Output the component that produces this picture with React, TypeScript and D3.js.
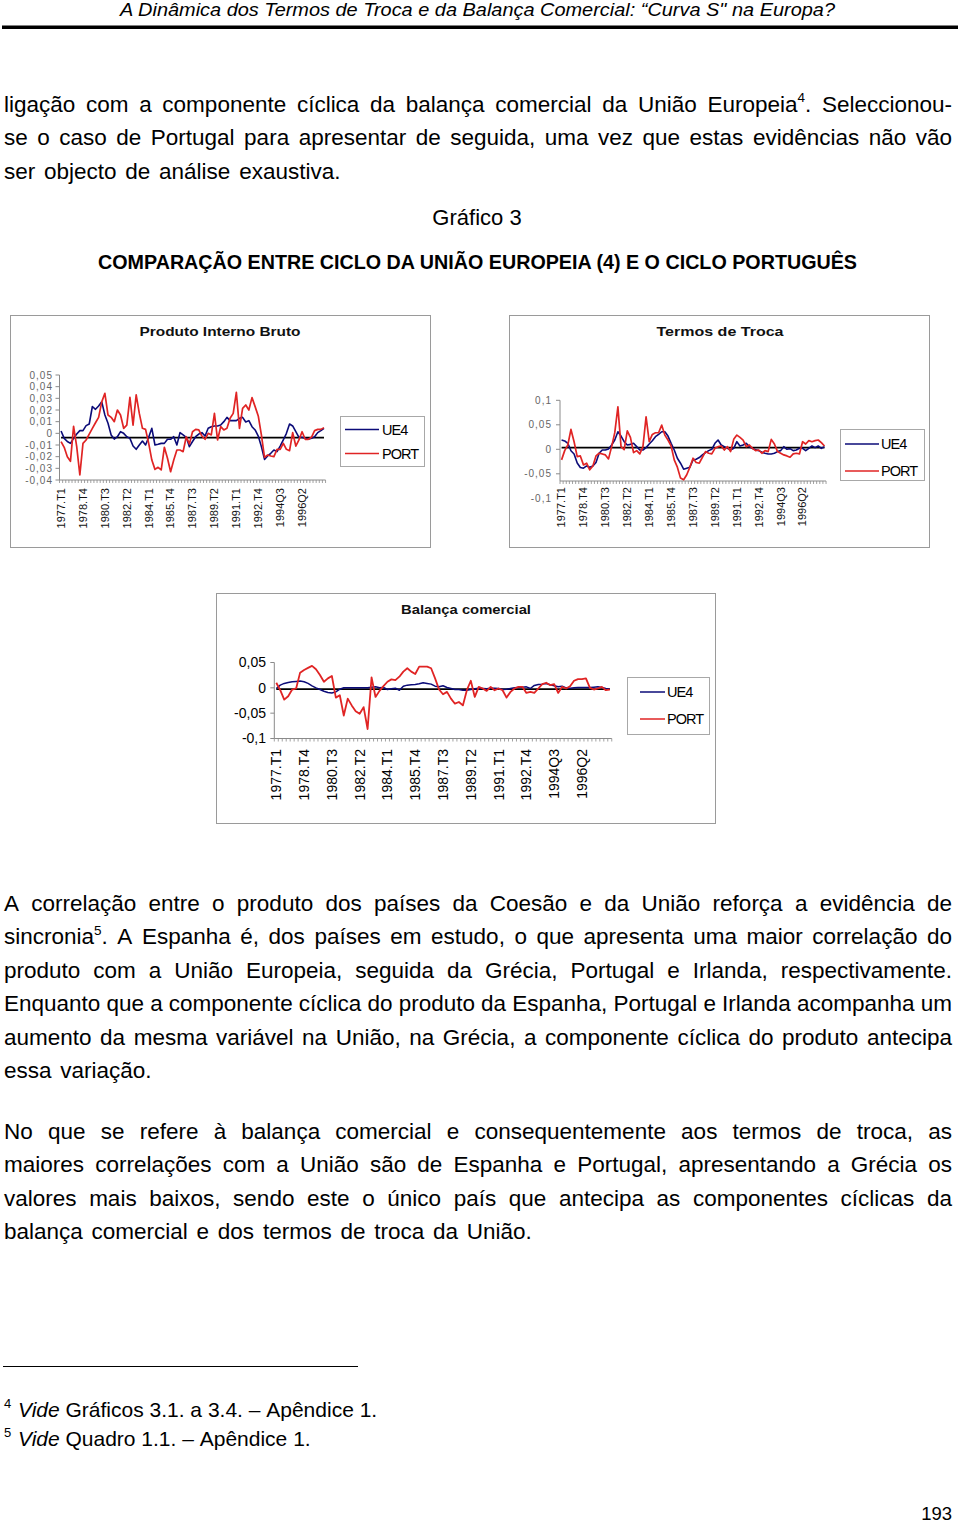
import React from 'react';
import * as d3 from 'd3';

const FONT = '"Liberation Sans", Arial, Helvetica, sans-serif';

// ---------- categories (quarters 1977 T1 .. 1998 Q1) ----------
const QUARTERS = [
  '1977.T1','1977.T2','1977.T3','1977.T4','1978.T1','1978.T2','1978.T3','1978.T4',
  '1979.T1','1979.T2','1979.T3','1979.T4','1980.T1','1980.T2','1980.T3','1980.T4',
  '1981.T1','1981.T2','1981.T3','1981.T4','1982.T1','1982.T2','1982.T3','1982.T4',
  '1983.T1','1983.T2','1983.T3','1983.T4','1984.T1','1984.T2','1984.T3','1984.T4',
  '1985.T1','1985.T2','1985.T3','1985.T4','1986.T1','1986.T2','1986.T3','1986.T4',
  '1987.T1','1987.T2','1987.T3','1987.T4','1988.T1','1988.T2','1988.T3','1988.T4',
  '1989.T1','1989.T2','1989.T3','1989.T4','1990.T1','1990.T2','1990.T3','1990.T4',
  '1991.T1','1991.T2','1991.T3','1991.T4','1992.T1','1992.T2','1992.T3','1992.T4',
  '1993.T1','1993.T2','1993.T3','1993.T4','1994.T1','1994.T2','1994Q3','1994Q4',
  '1995Q1','1995Q2','1995Q3','1995Q4','1996Q1','1996Q2','1996Q3','1996Q4',
  '1997Q1','1997Q2','1997Q3','1997Q4','1998Q1',
];
const SHOWN_LABELS = ['1977.T1','1978.T4','1980.T3','1982.T2','1984.T1','1985.T4','1987.T3','1989.T2','1991.T1','1992.T4','1994Q3','1996Q2'];
const SERIES_NAMES = ['UE4', 'PORT'];

// ---------- Produto Interno Bruto ----------
const PIB_UE4 = [0.002,-0.0043,-0.007,-0.0086,-0.0043,-0.0006,0.0023,0.0023,0.0066,0.008,
0.023,0.0206,0.0234,0.027,0.0157,0.0086,-0.0014,-0.0049,-0.0029,0.0014,
0,-0.0029,-0.0043,-0.0109,-0.0137,-0.01,-0.0066,-0.01,-0.0034,0.0043,
-0.01,-0.0094,-0.0086,-0.0086,-0.0051,-0.0051,-0.0029,-0.01,0.0006,-0.0014,
-0.0034,-0.0114,-0.007,-0.0029,-0.0006,0.0006,-0.0023,0.0043,0.0057,0.0063,
0.0063,0.0071,0.01,0.0137,0.0109,0.0109,0.0109,0.0129,0.0137,0.0097,
0.0109,0.0057,0.0029,-0.0023,-0.0114,-0.0223,-0.0194,-0.0171,-0.0143,-0.0157,
-0.0109,-0.0057,0,0.008,0.0063,0.0014,-0.0034,-0.0034,-0.0043,-0.0051,
-0.0043,-0.0029,0.0006,0.0023,0.0043];
const PIB_PORT = [-0.0071,-0.012,-0.02,-0.024,0.006,-0.0114,-0.0357,-0.0086,-0.0057,-0.0006,
0.0043,0.0091,0.0137,0.027,0.0343,0.0157,0.0137,0.01,0.02,0.0157,
0.0043,0.0071,0.0309,0.0071,0.0329,0.0171,0.0043,0.0034,-0.0086,-0.0229,
-0.0309,-0.0291,-0.0314,-0.012,-0.0214,-0.0329,-0.0229,-0.0143,-0.0143,-0.0157,
-0.0029,-0.0091,0.0014,0.0034,0.0029,-0.0023,-0.0051,0,-0.0014,0.0171,
-0.0057,0.0057,0.0029,0.0043,0.0129,0.0171,0.0351,0.0043,0.0214,0.0243,
0.02,0.0306,0.0229,0.0149,-0.0014,-0.0206,-0.0186,-0.0194,-0.02,-0.0137,
-0.0137,-0.0086,-0.0137,-0.0149,0.0006,-0.0109,-0.0057,0.0014,-0.0051,-0.0051,
-0.0034,0.0023,0.0034,0.0034,0.0049];
const PIB_TICKS = [0.05,0.04,0.03,0.02,0.01,0,-0.01,-0.02,-0.03,-0.04];
const PIB_TICK_LABELS = ['0,05','0,04','0,03','0,02','0,01','0','-0,01','-0,02','-0,03','-0,04'];
const PIB_REF = -0.0037;

// ---------- Termos de Troca ----------
const TT_UE4 = [0.019,0.017,0.012,-0.003,-0.0095,-0.028,-0.037,-0.0385,-0.034,-0.0365,
-0.034,-0.027,-0.008,-0.0014,-0.0014,0.0007,0.0088,0.019,0.0358,0.027,
0.0155,0.0088,0.0101,0.0122,0.0054,-0.0014,-0.0014,0.0034,0.0108,0.0176,
0.0257,0.0304,0.0358,0.0358,0.027,0.0122,-0.0014,-0.0182,-0.0284,-0.0405,
-0.0385,-0.0365,-0.0216,-0.0203,-0.0169,-0.0115,-0.0068,-0.0027,0,0.0122,
0.019,0.0088,0.0054,0.002,-0.0014,0.002,0.0155,0.0068,0.0088,0.0122,
0.0054,0.0014,-0.0007,-0.0027,-0.0061,-0.0081,-0.0095,-0.0095,-0.0081,-0.0047,
-0.0027,0.0054,0,0.0014,-0.0027,-0.0014,0.002,0.002,-0.0027,0.002,
0.0068,0.0034,0.0068,0.002,0.0054];
const TT_PORT = [-0.0216,-0.0027,0.0088,0.0405,0.0155,-0.0149,-0.0135,-0.0318,-0.0284,-0.0419,
-0.034,-0.0135,-0.0081,-0.0095,-0.0115,-0.0196,0.0054,0.034,0.0865,0.0054,
-0.0007,0.0378,0.0243,-0.0068,-0.0027,-0.0095,0.0054,0.0662,0.0155,0.0304,
0.0338,0.0338,0.0493,0.029,0.019,0.0068,-0.0216,-0.0365,-0.0588,-0.0622,
-0.052,-0.0365,-0.0182,-0.027,-0.0284,-0.0162,-0.0047,-0.0081,-0.0095,0.002,
0.0054,0.0068,-0.0014,0.0054,-0.0047,0.0203,0.029,0.0243,0.0189,0.0054,
0.0088,0.002,-0.0027,-0.0014,-0.0081,-0.0027,-0.0047,0.0203,0.0108,-0.0047,
-0.0081,-0.0115,-0.0135,-0.0162,-0.0095,-0.0081,-0.0095,0.0155,0.0108,0.0176,
0.0155,0.0176,0.019,0.0135,0.0068];
const TT_TICKS = [0.1,0.05,0,-0.05];
const TT_TICK_LABELS = ['0,1','0,05','0','-0,05'];
const TT_EXTRA_LABEL = '-0,1';
const TT_REF = 0.0035;

// ---------- Balança comercial ----------
const BC_UE4 = [-0.0013,0.0053,0.0087,0.0107,0.012,0.0127,0.0133,0.012,0.0087,0.004,
0,-0.0033,-0.0067,-0.0093,-0.01,-0.008,-0.0027,0,0,0,
0,0,0,0,0.0013,0.002,0,0.0007,-0.0033,-0.002,
-0.0007,-0.0047,0.0033,0.0053,0.006,0.0067,0.008,0.01,0.0087,0.0073,
0.0033,0.002,0.004,0.0007,-0.0013,-0.0033,-0.0033,-0.0047,-0.0047,-0.0033,
-0.002,-0.0007,-0.0013,-0.002,-0.0007,-0.0007,-0.0013,-0.0033,-0.0027,-0.0013,
0,0.0007,0.0013,0.002,-0.0013,0.0047,0.0067,0.0073,0.0087,0.006,
0.004,0.002,0.0033,0,-0.0007,0,0.0007,0.0007,0.0007,0.0007,
0.0013,0.002,0.0007,-0.0013,-0.002];
const BC_PORT = [0.01,-0.0047,-0.0233,-0.0167,-0.0033,-0.0013,0.03,0.0353,0.0393,0.0433,
0.0367,0.0253,0.012,0.0187,0.0233,-0.0193,-0.0147,-0.0547,-0.0213,-0.0347,
-0.046,-0.0513,-0.038,-0.0813,0.0207,-0.018,-0.006,0.0033,0.012,0.0167,
0.0153,0.022,0.032,0.0387,0.032,0.0273,0.042,0.042,0.042,0.0387,
0.0187,-0.0033,-0.0127,-0.008,-0.0213,-0.0313,-0.028,-0.0347,-0.0047,0.014,
-0.018,0.002,-0.0013,-0.006,0.002,-0.0047,-0.0013,-0.0047,-0.0193,-0.008,
-0.0013,0.002,0.002,-0.01,-0.008,-0.01,-0.0013,0.0073,0.01,0.0053,
0.0073,-0.01,0.002,-0.0013,0.0033,0.014,0.0173,0.0173,0.0187,0,
-0.0033,-0.0013,0.002,-0.0047,-0.0033];
const BC_TICKS = [0.05,0,-0.05,-0.1];
const BC_TICK_LABELS = ['0,05','0','-0,05','-0,1'];
const BC_REF = -0.0026;

// ---------- page text ----------
type Seg = { t: string; sup?: boolean; it?: boolean };
const HEADER = 'A Dinâmica dos Termos de Troca e da Balança Comercial: “Curva S" na Europa?';
const PARA1: Seg[][] = [
  [{ t: 'ligação com a componente cíclica da balança comercial da União Europeia' }, { t: '4', sup: true }, { t: '. Seleccionou-' }],
  [{ t: 'se o caso de Portugal para apresentar de seguida, uma vez que estas evidências não vão' }],
  [{ t: 'ser objecto de análise exaustiva.' }],
];
const FIG_NUMBER = 'Gráfico 3';
const FIG_TITLE = 'COMPARAÇÃO ENTRE CICLO DA UNIÃO EUROPEIA (4) E O CICLO PORTUGUÊS';
const PARA2: Seg[][] = [
  [{ t: 'A correlação entre o produto dos países da Coesão e da União reforça a evidência de' }],
  [{ t: 'sincronia' }, { t: '5', sup: true }, { t: '. A Espanha é, dos países em estudo, o que apresenta uma maior correlação do' }],
  [{ t: 'produto com a União Europeia, seguida da Grécia, Portugal e Irlanda, respectivamente.' }],
  [{ t: 'Enquanto que a componente cíclica do produto da Espanha, Portugal e Irlanda acompanha um' }],
  [{ t: 'aumento da mesma variável na União, na Grécia, a componente cíclica do produto antecipa' }],
  [{ t: 'essa variação.' }],
];
const PARA3: Seg[][] = [
  [{ t: 'No que se refere à balança comercial e consequentemente aos termos de troca, as' }],
  [{ t: 'maiores correlações com a União são de Espanha e Portugal, apresentando a Grécia os' }],
  [{ t: 'valores mais baixos, sendo este o único país que antecipa as componentes cíclicas da' }],
  [{ t: 'balança comercial e dos termos de troca da União.' }],
];
const FOOTNOTES: { mark: string; segs: Seg[] }[] = [
  { mark: '4', segs: [{ t: 'Vide', it: true }, { t: ' Gráficos 3.1. a 3.4. – Apêndice 1.' }] },
  { mark: '5', segs: [{ t: 'Vide', it: true }, { t: ' Quadro 1.1. – Apêndice 1.' }] },
];
const PAGE_NUMBER = '193';

// ---------- text measuring ----------
let ctx: CanvasRenderingContext2D | null = null;
function measure(text: string, size: number, italic = false, weight = 'normal') {
  if (!ctx) ctx = document.createElement('canvas').getContext('2d');
  ctx!.font = `${italic ? 'italic' : 'normal'} ${weight} ${size}px ${FONT}`;
  return ctx!.measureText(text).width;
}

function toWords(segs: Seg[]): Seg[][] {
  const words: Seg[][] = [];
  let cur: Seg[] = [];
  for (const s of segs) {
    const parts = s.t.split(' ');
    parts.forEach((p, k) => {
      if (k > 0) { if (cur.length) words.push(cur); cur = []; }
      if (p) cur.push({ ...s, t: p });
    });
  }
  if (cur.length) words.push(cur);
  return words;
}

function TextLine({ segs, x0, x1, y, size, justify, extraSpace = 0 }: { segs: Seg[]; x0: number; x1: number; y: number; size: number; justify: boolean; extraSpace?: number }) {
  const words = toWords(segs);
  const supSize = size * 0.6;
  const widths = words.map(w => w.map(s => measure(s.t, s.sup ? supSize : size, !!s.it)));
  const total = d3.sum(widths.map(ws => d3.sum(ws)));
  const gap = justify && words.length > 1 ? (x1 - x0 - total) / (words.length - 1) : measure(' ', size) + extraSpace;
  const out: React.ReactNode[] = [];
  let x = x0;
  words.forEach((w, wi) => {
    w.forEach((s, si) => {
      out.push(
        <text key={`${wi}-${si}`} x={x} y={s.sup ? y - size * 0.42 : y} fontSize={s.sup ? supSize : size}
          fontStyle={s.it ? 'italic' : 'normal'} fill="#000">{s.t}</text>
      );
      x += widths[wi][si];
    });
    x += gap;
  });
  return <g fontFamily={FONT}>{out}</g>;
}

// ---------- chart ----------
type ChartCfg = {
  box: [number, number, number, number];
  title: string; titleX: number; titleY: number; titleLen: number;
  domain: [number, number]; range: [number, number];
  axisX: number; step: number; xAxisY: number; yAxisTop: number;
  ticks: number[]; tickLabels: string[]; tickLabelX: number; tickFont: number; tickFill: string; tickSpacing: number;
  extraLabel?: { text: string; value: number };
  ref: number;
  xLabelTop: number; xLabelFont: number; xLabelFill: string;
  legend: { box: [number, number, number, number]; rows: [number, number]; lx: [number, number]; tx: number; font: number };
  widths: [number, number];
};

const BLUE = '#0b0b78';
const RED = '#e02424';

function Chart({ cfg, ue4, port }: { cfg: ChartCfg; ue4: number[]; port: number[] }) {
  const x = d3.scaleBand<string>().domain(QUARTERS).range([cfg.axisX, cfg.axisX + cfg.step * QUARTERS.length]).padding(0);
  const y = d3.scaleLinear().domain(cfg.domain).range(cfg.range);
  const cx = (i: number) => (x(QUARTERS[i]) as number) + x.bandwidth() / 2;
  const line = d3.line<number>().x((_, i) => cx(i)).y(d => y(d));
  const [bx, by, bw, bh] = cfg.box;
  const xEnd = cfg.axisX + cfg.step * QUARTERS.length;
  const lg = cfg.legend;
  return (
    <g fontFamily={FONT}>
      <rect x={bx + 0.5} y={by + 0.5} width={bw} height={bh} fill="#fff" stroke="#9a9a9a" strokeWidth={1} />
      <text x={cfg.titleX} y={cfg.titleY} textAnchor="middle" fontSize={13} fontWeight="bold" fill="#111"
        textLength={cfg.titleLen} lengthAdjust="spacingAndGlyphs">{cfg.title}</text>
      {/* y axis */}
      <line x1={cfg.axisX} x2={cfg.axisX} y1={cfg.yAxisTop} y2={cfg.xAxisY} stroke="#8a8a8a" strokeWidth={1} />
      {cfg.ticks.map((t, k) => (
        <g key={k}>
          <line x1={cfg.axisX - 4} x2={cfg.axisX} y1={y(t)} y2={y(t)} stroke="#8a8a8a" />
          <text x={cfg.tickLabelX} y={y(t)} dy="0.35em" textAnchor="end" fontSize={cfg.tickFont}
            fill={cfg.tickFill} letterSpacing={cfg.tickSpacing}>{cfg.tickLabels[k]}</text>
        </g>
      ))}
      {cfg.extraLabel && (
        <text x={cfg.tickLabelX} y={y(cfg.extraLabel.value)} dy="0.35em" textAnchor="end" fontSize={cfg.tickFont}
          fill={cfg.tickFill} letterSpacing={cfg.tickSpacing}>{cfg.extraLabel.text}</text>
      )}
      {/* x axis */}
      <line x1={cfg.axisX} x2={xEnd} y1={cfg.xAxisY} y2={cfg.xAxisY} stroke="#8a8a8a" strokeWidth={1} />
      {QUARTERS.map((q) => (
        <line key={q} x1={x(q)} x2={x(q)} y1={cfg.xAxisY} y2={cfg.xAxisY + 3} stroke="#8a8a8a" strokeWidth={0.8} />
      ))}
      <line x1={xEnd} x2={xEnd} y1={cfg.xAxisY} y2={cfg.xAxisY + 3} stroke="#8a8a8a" strokeWidth={0.8} />
      {QUARTERS.map((q, i) => SHOWN_LABELS.includes(q) ? (
        <text key={q} transform={`translate(${cx(i)},${cfg.xLabelTop}) rotate(-90)`} textAnchor="end" dy="0.35em"
          fontSize={cfg.xLabelFont} fill={cfg.xLabelFill}>{q}</text>
      ) : null)}
      {/* reference line */}
      <line x1={cx(0)} x2={cx(QUARTERS.length - 1)} y1={y(cfg.ref)} y2={y(cfg.ref)} stroke="#000" strokeWidth={1.8} />
      <path d={line(ue4) ?? ''} fill="none" stroke={BLUE} strokeWidth={cfg.widths[0]} strokeLinejoin="round" />
      <path d={line(port) ?? ''} fill="none" stroke={RED} strokeWidth={cfg.widths[1]} strokeLinejoin="round" />
      {/* legend */}
      <rect x={lg.box[0] + 0.5} y={lg.box[1] + 0.5} width={lg.box[2]} height={lg.box[3]} fill="#fff" stroke="#a8a8a8" />
      {SERIES_NAMES.map((n, k) => (
        <g key={n}>
          <line x1={lg.lx[0]} x2={lg.lx[1]} y1={lg.rows[k]} y2={lg.rows[k]} stroke={k === 0 ? BLUE : RED} strokeWidth={1.5} />
          <text x={lg.tx} y={lg.rows[k]} dy="0.35em" fontSize={lg.font} letterSpacing={-1} fill="#000">{n}</text>
        </g>
      ))}
    </g>
  );
}

const PIB_CFG: ChartCfg = {
  box: [10, 315, 420, 232], title: 'Produto Interno Bruto', titleX: 220, titleY: 335.5, titleLen: 161,
  domain: [-0.04, 0.05], range: [480, 375], axisX: 59.5, step: 3.13, xAxisY: 480, yAxisTop: 375,
  ticks: PIB_TICKS, tickLabels: PIB_TICK_LABELS, tickLabelX: 53, tickFont: 10, tickFill: '#666', tickSpacing: 1,
  ref: PIB_REF, xLabelTop: 488, xLabelFont: 11, xLabelFill: '#111',
  legend: { box: [340, 416, 84, 50], rows: [429.5, 453.5], lx: [345, 379], tx: 382, font: 14.5 },
  widths: [1.6, 1.7],
};
const TT_CFG: ChartCfg = {
  box: [509, 315, 420, 232], title: 'Termos de Troca', titleX: 720, titleY: 335.5, titleLen: 127,
  domain: [-0.1, 0.1], range: [498.3, 400.3], axisX: 560, step: 3.13, xAxisY: 481, yAxisTop: 400.3,
  ticks: TT_TICKS, tickLabels: TT_TICK_LABELS, tickLabelX: 552, tickFont: 10, tickFill: '#666', tickSpacing: 1,
  extraLabel: { text: TT_EXTRA_LABEL, value: -0.1 },
  ref: TT_REF, xLabelTop: 487, xLabelFont: 11, xLabelFill: '#111',
  legend: { box: [840, 429, 84, 51], rows: [444, 471], lx: [845, 879], tx: 881, font: 14.5 },
  widths: [1.6, 1.7],
};
const BC_CFG: ChartCfg = {
  box: [216, 593, 499, 230], title: 'Balança comercial', titleX: 466, titleY: 613.5, titleLen: 130,
  domain: [-0.1, 0.05], range: [738.5, 662.5], axisX: 274.3, step: 3.97, xAxisY: 738.5, yAxisTop: 662.5,
  ticks: BC_TICKS, tickLabels: BC_TICK_LABELS, tickLabelX: 266, tickFont: 14, tickFill: '#000', tickSpacing: 0,
  ref: BC_REF, xLabelTop: 749, xLabelFont: 14, xLabelFill: '#000',
  legend: { box: [627, 677, 82, 57], rows: [692, 719], lx: [640, 665], tx: 667, font: 14.5 },
  widths: [1.5, 1.8],
};

export default function App() {
  const body = 22.5;
  const L = 4, R = 952;
  const p1 = [111.5, 145, 178.5];
  const p2 = [910.5, 944, 977.5, 1011, 1044.5, 1078];
  const p3 = [1138.5, 1172, 1205.5, 1239];
  const lastExtra = 2.5;
  return (
    <svg width={960} height={1523} viewBox="0 0 960 1523"
      style={{ position: 'absolute', left: 0, top: 0, background: '#fff' }}>
      <rect x={0} y={0} width={960} height={1523} fill="#fff" />
      <text x={120} y={16} fontFamily={FONT} fontStyle="italic" fontSize={19} textLength={715}
        lengthAdjust="spacingAndGlyphs" fill="#000">{HEADER}</text>
      <rect x={2} y={25.5} width={956} height={3.5} fill="#000" />

      {PARA1.map((segs, k) => (
        <TextLine key={k} segs={segs} x0={L} x1={R} y={p1[k]} size={body} justify={k < PARA1.length - 1} extraSpace={lastExtra} />
      ))}
      <text x={477} y={224.5} textAnchor="middle" fontFamily={FONT} fontSize={22} fill="#000">{FIG_NUMBER}</text>
      <text x={98} y={269} fontFamily={FONT} fontSize={19.5} fontWeight="bold" fill="#000" textLength={759}
        lengthAdjust="spacingAndGlyphs">{FIG_TITLE}</text>

      <Chart cfg={PIB_CFG} ue4={PIB_UE4} port={PIB_PORT} />
      <Chart cfg={TT_CFG} ue4={TT_UE4} port={TT_PORT} />
      <Chart cfg={BC_CFG} ue4={BC_UE4} port={BC_PORT} />

      {PARA2.map((segs, k) => (
        <TextLine key={k} segs={segs} x0={L} x1={R} y={p2[k]} size={body} justify={k < PARA2.length - 1} extraSpace={lastExtra} />
      ))}
      {PARA3.map((segs, k) => (
        <TextLine key={k} segs={segs} x0={L} x1={R} y={p3[k]} size={body} justify={k < PARA3.length - 1} extraSpace={lastExtra} />
      ))}

      <line x1={3} x2={358} y1={1366.5} y2={1366.5} stroke="#000" strokeWidth={1} />
      {FOOTNOTES.map((f, k) => (
        <g key={k}>
          <text x={4} y={1408 + k * 29} fontFamily={FONT} fontSize={13} fill="#000">{f.mark}</text>
          <TextLine segs={f.segs} x0={18} x1={900} y={1417 + k * 29} size={21} justify={false} />
        </g>
      ))}
      <text x={952} y={1520} textAnchor="end" fontFamily={FONT} fontSize={18.5} fill="#000">{PAGE_NUMBER}</text>
    </svg>
  );
}
